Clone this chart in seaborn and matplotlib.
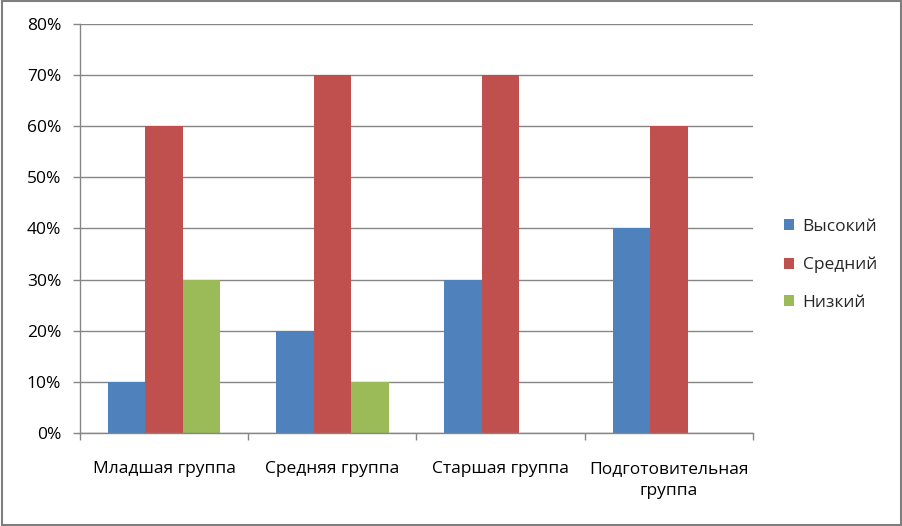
import matplotlib
matplotlib.use("Agg")
import matplotlib.pyplot as plt
import seaborn as sns
import pandas as pd
from matplotlib.patches import Patch, Rectangle
from matplotlib.ticker import FixedLocator, PercentFormatter

categories = ["Младшая группа", "Средняя группа", "Старшая группа", "Подготовительная\nгруппа"]
series = ["Высокий", "Средний", "Низкий"]
vysokiy = [10, 20, 30, 40]
sredniy = [60, 70, 70, 60]
nizkiy = [30, 10, 0, 0]
colors = ["#4F81BD", "#C0504D", "#9BBB59"]

rows = []
for name, vals in zip(series, [vysokiy, sredniy, nizkiy]):
    for c, v in zip(categories, vals):
        rows.append({"cat": c, "series": name, "val": v})
df = pd.DataFrame(rows)

sns.set_theme(style="white")
plt.rcParams["font.family"] = ["Open Sans", "DejaVu Sans"]

FS = 12.5
fig = plt.figure(figsize=(9.03, 5.26), dpi=100)
W, H = 903, 526
ax = fig.add_axes([80 / W, (H - 433) / H, (753 - 80) / W, (433 - 24) / H])

sns.barplot(data=df, x="cat", y="val", hue="series", order=categories,
            hue_order=series, palette=colors, width=0.67, saturation=1,
            edgecolor="none", linewidth=0, ax=ax, legend=False)

grid_c = "#868686"
ax.set_xlim(-0.5, 3.5)
ax.set_ylim(0, 80)
ax.set_yticks(range(0, 81, 10))
ax.yaxis.set_major_formatter(PercentFormatter(decimals=0))
ax.yaxis.grid(True, color=grid_c, linewidth=1)
ax.set_axisbelow(True)
ax.set_xlabel("")
ax.set_ylabel("")
for s in ["top", "right"]:
    ax.spines[s].set_visible(False)
for s in ["left", "bottom"]:
    ax.spines[s].set_color(grid_c)
    ax.spines[s].set_linewidth(1)

ax.set_xticks(range(len(categories)))
ax.set_xticklabels(categories, linespacing=1.5)
ax.xaxis.set_minor_locator(FixedLocator([-0.5, 0.5, 1.5, 2.5, 3.5]))
ax.tick_params(axis="x", which="major", length=0, pad=20, labelsize=FS, labelcolor="black")
ax.tick_params(axis="x", which="minor", length=5, color=grid_c, width=1, direction="out")
ax.tick_params(axis="y", which="major", length=5, color=grid_c, width=1, direction="out",
               labelsize=FS, labelcolor="black", pad=8.5)
ax.tick_params(left=True, bottom=False)
ax.tick_params(axis="x", which="minor", bottom=True)

handles = [Patch(facecolor=c, edgecolor="none", label=s) for c, s in zip(colors, series)]
leg = fig.legend(handles=handles, loc="center left", bbox_to_anchor=(768 / W, (H - 265) / H),
                 frameon=False, fontsize=FS, handlelength=0.6, handleheight=0.6,
                 handletextpad=0.5, labelspacing=1.25)

fig.patches.append(Rectangle((0.002, 0.002), 0.996, 0.996, transform=fig.transFigure,
                             fill=False, edgecolor="#7f7f7f", linewidth=1.5))

fig.savefig("out.png", dpi=100)
